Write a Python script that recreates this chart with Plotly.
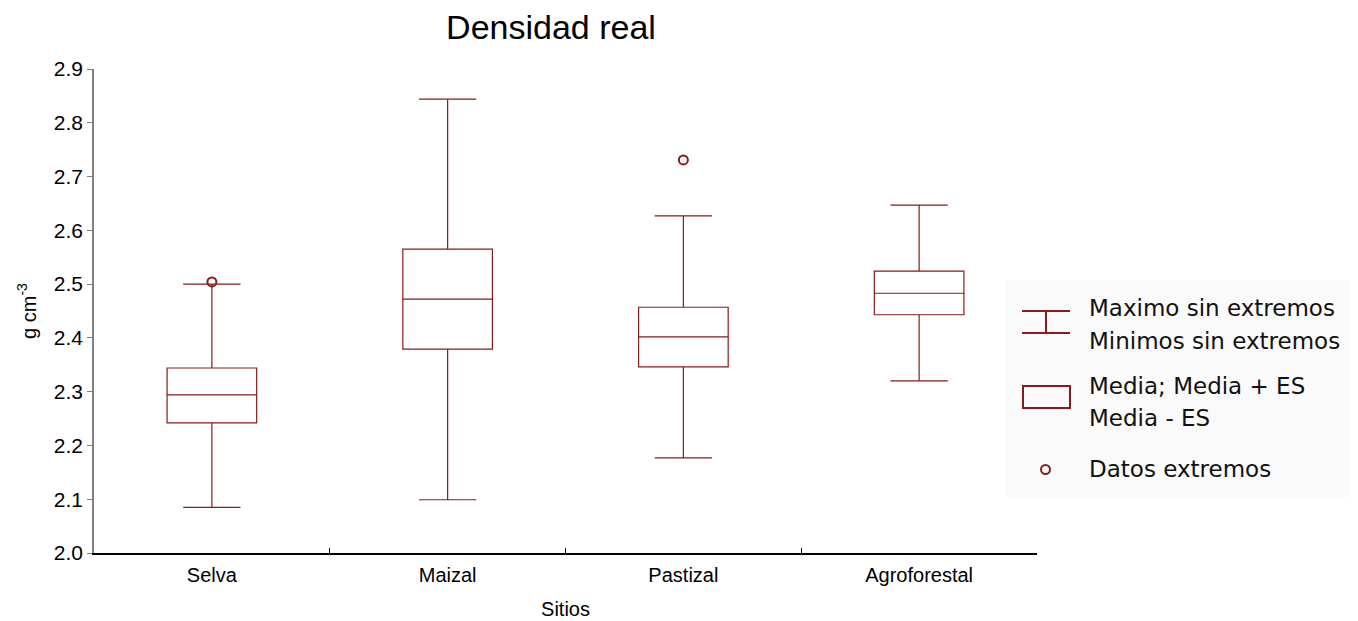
import plotly.graph_objects as go

categories = ["Selva", "Maizal", "Pastizal", "Agroforestal"]
upper_whisker = [2.500, 2.844, 2.627, 2.647]
box_top = [2.344, 2.565, 2.457, 2.524]
mean_vals = [2.294, 2.472, 2.402, 2.483]
box_bottom = [2.242, 2.379, 2.346, 2.443]
lower_whisker = [2.085, 2.099, 2.177, 2.320]
outlier_cats = ["Selva", "Pastizal"]
outlier_vals = [2.504, 2.731]
y_ticks = [2.0, 2.1, 2.2, 2.3, 2.4, 2.5, 2.6, 2.7, 2.8, 2.9]

RED = "#8B1A1A"
FONT = "Liberation Sans, Arial, sans-serif"
LFONT = "DejaVu Sans, sans-serif"

OFF = 8  # default page body margin
W, H = 1358 - OFF, 621 - OFF

fig = go.Figure()
fig.add_trace(go.Box(
    x=categories,
    q1=box_bottom, median=mean_vals, q3=box_top,
    lowerfence=lower_whisker, upperfence=upper_whisker,
    line=dict(color=RED, width=1.2),
    fillcolor="white",
    width=0.38,
    whiskerwidth=0.64,
    boxpoints=False,
    showlegend=False,
    hoverinfo="skip",
))
fig.add_trace(go.Scatter(
    x=outlier_cats, y=outlier_vals, mode="markers",
    marker=dict(symbol="circle-open", size=9, color=RED, line=dict(width=2, color=RED)),
    showlegend=False, hoverinfo="skip",
))

PT, PB = 69, 553
def px_to_paper_x(px):
    return (px - 94) / (1037 - 94)
def px_to_paper_y(py):
    return (PB - py) / (PB - PT)

shapes = []
annotations = []
shapes.append(dict(type="rect", xref="paper", yref="paper",
                   x0=px_to_paper_x(1005), x1=px_to_paper_x(1356),
                   y0=px_to_paper_y(497), y1=px_to_paper_y(280),
                   fillcolor="#fafafa", line=dict(width=0), layer="below"))
for yy in (311, 333):
    shapes.append(dict(type="line", xref="paper", yref="paper",
                       x0=px_to_paper_x(1022), x1=px_to_paper_x(1070),
                       y0=px_to_paper_y(yy), y1=px_to_paper_y(yy),
                       line=dict(color=RED, width=2)))
shapes.append(dict(type="line", xref="paper", yref="paper",
                   x0=px_to_paper_x(1046), x1=px_to_paper_x(1046),
                   y0=px_to_paper_y(311), y1=px_to_paper_y(333),
                   line=dict(color=RED, width=2)))
shapes.append(dict(type="rect", xref="paper", yref="paper",
                   x0=px_to_paper_x(1023), x1=px_to_paper_x(1070),
                   y0=px_to_paper_y(408), y1=px_to_paper_y(386),
                   line=dict(color=RED, width=2), fillcolor="rgba(0,0,0,0)"))
shapes.append(dict(type="circle", xref="paper", yref="paper",
                   x0=px_to_paper_x(1041), x1=px_to_paper_x(1050),
                   y0=px_to_paper_y(474), y1=px_to_paper_y(465),
                   line=dict(color=RED, width=2)))

legend_texts = [("Maximo sin extremos", 308), ("Minimos sin extremos", 341),
                ("Media; Media + ES", 386), ("Media - ES", 418),
                ("Datos extremos", 469)]
for txt, yy in legend_texts:
    annotations.append(dict(text=txt, xref="paper", yref="paper",
                            x=px_to_paper_x(1087), y=px_to_paper_y(yy),
                            xanchor="left", yanchor="middle", showarrow=False,
                            font=dict(size=23, color="#111", family=LFONT)))

fig.update_layout(
    width=W, height=H,
    margin=dict(l=94 - OFF, r=1358 - 1037, t=PT - OFF, b=621 - PB),
    paper_bgcolor="white", plot_bgcolor="white",
    title=dict(text="Densidad real", x=(551 - OFF) / W, xanchor="center",
               y=1 - (27 - OFF) / H, yanchor="middle",
               font=dict(size=34, color="black", family=FONT)),
    font=dict(family=FONT, color="black"),
    shapes=shapes, annotations=annotations,
    showlegend=False,
)
fig.update_xaxes(
    type="category", range=[-0.5, 3.5], automargin=False,
    showline=True, linecolor="black", linewidth=1.5,
    ticks="inside", tickson="boundaries", ticklen=5, tickcolor="black",
    showgrid=False, zeroline=False,
    tickfont=dict(size=20, family=FONT),
    ticklabelstandoff=3,
    title=dict(text="Sitios", font=dict(size=20, family=FONT), standoff=17),
)
fig.update_yaxes(
    range=[2.0, 2.9], tickvals=y_ticks, tickformat=".1f", automargin=False,
    showline=True, linecolor="#808080", linewidth=1.5,
    ticks="outside", ticklen=5, tickcolor="#808080",
    showgrid=False, zeroline=False,
    tickfont=dict(size=21, family=FONT),
    title=dict(text="g cm<sup>-3</sup>", font=dict(size=20, family=FONT), standoff=12),
)

fig.write_html("out.html")
